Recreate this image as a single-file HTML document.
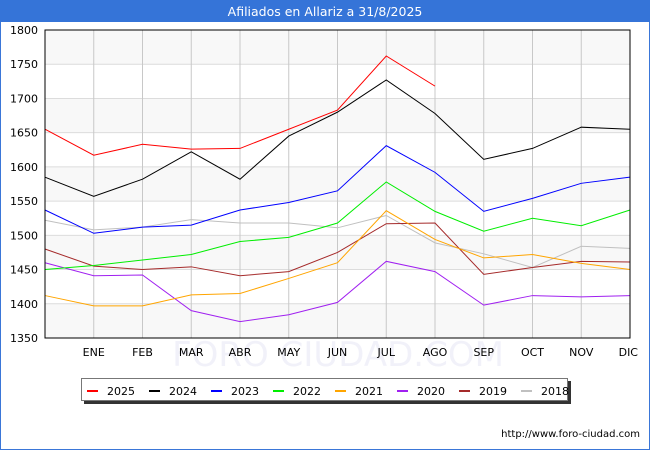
<!DOCTYPE html>
<html><head><meta charset="utf-8"><style>
body{margin:0;width:650px;height:450px;overflow:hidden;background:#fff;font-family:"DejaVu Sans","Liberation Sans",sans-serif}
</style></head><body>
<svg id="chart" width="650" height="450" xmlns="http://www.w3.org/2000/svg" style="display:block;font-family:'DejaVu Sans','Liberation Sans',sans-serif">
<rect x="0.5" y="0.5" width="649" height="449" fill="#fff" stroke="#3a76d8"/>
<rect x="0" y="0" width="650" height="22" fill="#3574d8"/>
<text x="325" y="16" text-anchor="middle" font-size="12.5" fill="#fff">Afiliados en Allariz a 31/8/2025</text>
<g id="bands"></g>
<g id="grid"></g>
<text x="338" y="366" text-anchor="middle" font-size="34" fill="#eeeef8" opacity="0.8">FORO CIUDAD.COM</text>
<g id="series"></g>
<rect x="45" y="30" width="585" height="308" fill="none" stroke="#000" stroke-width="1"/>
<g id="axes"></g>
<rect x="84" y="381" width="487" height="23" fill="#333"/>
<rect x="81.5" y="378.5" width="486" height="22" fill="#fff" stroke="#777"/>
<g id="legend"></g>
<text x="640" y="437" text-anchor="end" font-size="10" fill="#000">http://www.foro-ciudad.com</text>
</svg>
<script>
const months = ["","ENE","FEB","MAR","ABR","MAY","JUN","JUL","AGO","SEP","OCT","NOV","DIC"];
const yTicks = [1350,1400,1450,1500,1550,1600,1650,1700,1750,1800];
const seriesNames = ["2025","2024","2023","2022","2021","2020","2019","2018"];
const seriesColors = ["#ff0000","#000000","#0000ff","#00ee00","#ffa500","#a020f0","#a52a2a","#c0c0c0"];
const s2025 = [1655,1617,1633,1626,1627,1655,1683,1762,1718];
const s2024 = [1585,1557,1582,1622,1582,1645,1680,1727,1678,1611,1627,1658,1655];
const s2023 = [1537,1503,1512,1515,1537,1548,1565,1631,1592,1535,1554,1576,1585];
const s2022 = [1450,1456,1464,1472,1491,1497,1518,1578,1535,1506,1525,1514,1537];
const s2021 = [1412,1397,1397,1413,1415,1437,1460,1536,1494,1467,1472,1459,1450];
const s2020 = [1460,1441,1442,1390,1374,1384,1402,1462,1447,1398,1412,1410,1412];
const s2019 = [1480,1455,1450,1454,1441,1447,1475,1517,1518,1443,1453,1462,1461];
const s2018 = [1522,1508,1512,1523,1518,1518,1511,1529,1489,1473,1453,1484,1481];
const seriesData = [s2025,s2024,s2023,s2022,s2021,s2020,s2019,s2018];

const NS="http://www.w3.org/2000/svg";
const X0=45,X1=630,Y0=338,Y1=30,YMIN=1350,YMAX=1800;
const x=i=>X0+i*(X1-X0)/(months.length-1);
const y=v=>Y0-(v-YMIN)*(Y0-Y1)/(YMAX-YMIN);
function mk(tag,attrs,parent){const e=document.createElementNS(NS,tag);for(const k in attrs)e.setAttribute(k,attrs[k]);document.getElementById(parent).appendChild(e);return e;}

for(let k=0;k<yTicks.length-1;k++){
  if((yTicks.length-2-k)%2===0){
    const b=mk('rect',{x:X0,y:y(yTicks[k+1]),width:X1-X0,height:y(yTicks[k])-y(yTicks[k+1]),fill:'#f8f8f8'},'bands');
    
    
  }
}
yTicks.forEach(t=>{
  const l=mk('line',{x1:X0,x2:X1,y1:y(t),y2:y(t),stroke:'#dcdcdc','stroke-width':1},'grid');
  
  
  const tx=mk('text',{x:38,y:y(t)+4,'text-anchor':'end','font-size':11,fill:'#000'},'axes');
  
  
  tx.textContent=t;
});
months.forEach((m,i)=>{
  if(i===0)return;
  const l=mk('line',{x1:x(i),x2:x(i),y1:Y1,y2:Y0,stroke:'#c8c8c8','stroke-width':1},'grid');
  
  
  const tx=mk('text',{x:x(i),y:356,'text-anchor':i===12?'end':'middle','font-size':11,fill:'#000'},'axes');
  if(i===12)tx.setAttribute('x',x(i)+8);
  
  
  tx.textContent=m;
});
for(let s=seriesData.length-1;s>=0;s--){
  const pts=seriesData[s].map((v,i)=>x(i)+','+y(v)).join(' ');
  const p=mk('polyline',{points:pts,fill:'none',stroke:seriesColors[s],'stroke-width':1},'series');
  
  
}
seriesNames.forEach((n,k)=>{
  const lx=87+k*62;
  const l=mk('line',{x1:lx,x2:lx+11,y1:391,y2:391,stroke:seriesColors[k],'stroke-width':2},'legend');
  
  
  const t=mk('text',{x:lx+20,y:395,'font-size':11,fill:'#000'},'legend');
  
  
  t.textContent=n;
});
</script>
</body></html>
